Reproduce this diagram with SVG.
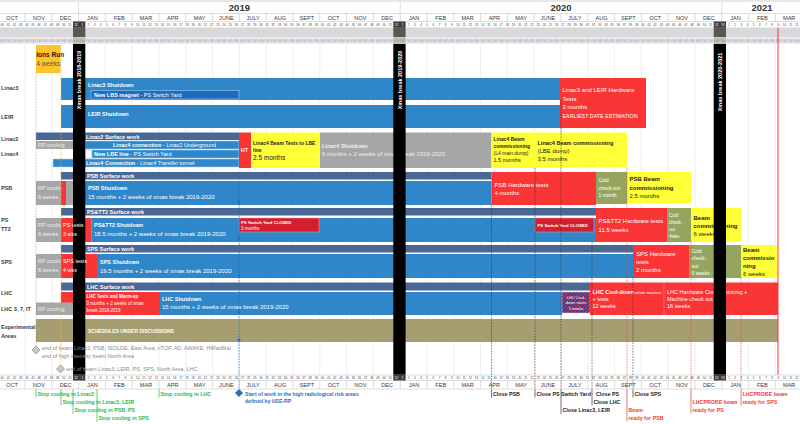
<svg xmlns="http://www.w3.org/2000/svg" width="800" height="424" viewBox="0 0 800 424">
<style>
text{font-family:"Liberation Sans",Arial,Helvetica,sans-serif;font-size:6px;fill:#333}
.b{font-weight:bold}
.h{font-weight:bold;font-size:5.5px;fill:#fff}
.w{fill:#fff}
.lg{fill:#f0f0f0}
.dk{fill:#1a1a1a}
.f4{font-size:4px}
.f43{font-size:4.3px}
.f45{font-size:4.5px}
.f5{font-size:5px}
.f55{font-size:5.5px}
.f65{font-size:6.5px}
.lab{font-weight:bold;font-size:5.5px;fill:#3a3a3a}
.yr{font-weight:bold;font-size:9.5px;text-anchor:middle;fill:#333}
.mo text{font-size:5.6px;text-anchor:middle;fill:#3a3a3a}
.wk text{font-size:3px;text-anchor:middle;fill:#444}
.wk .x{fill:#fff}
.xt{font-weight:bold;font-size:5.5px;fill:#fff;text-anchor:middle}
.blue{fill:#2F86C8}
.slate{fill:#4A6896}
.red{fill:#FA3535}
.dred{fill:#D41F2E;stroke:#F2A2A2;stroke-width:0.5}
.yel{fill:#FFFF38}
.gray{fill:#A6A6A6}
.grn{fill:#95A55F}
.sub{fill:#1C6CC0;stroke:#A8CCEE;stroke-width:0.6}
.sub2{fill:#2F86C8;stroke:#A8CCEE;stroke-width:0.6}
.grid{stroke:#E2E2E2;stroke-width:0.6;fill:none}
.dash{stroke:#333;stroke-width:0.6;stroke-dasharray:1.6 1.2;fill:none}
.rdash{stroke:#F23A3A;stroke-width:0.6;stroke-dasharray:1.6 1.2;fill:none}
.bdash{stroke:#1F6FC2;stroke-width:0.7;stroke-dasharray:1.6 1.2;fill:none}
.tick{stroke:#333;stroke-width:0.7}
.rtick{stroke:#F23A3A;stroke-width:0.7}
.gtick{stroke:#2BB54B;stroke-width:0.7}
.gt{fill:#2BB54B;font-weight:bold;font-size:5.3px}
.rt{fill:#F23A3A;font-weight:bold;font-size:5.3px}
.bt{fill:#1F6FC2;font-weight:bold;font-size:5.1px}
.ct{fill:#1a1a1a;font-weight:bold;font-size:5.3px}
.mk{fill:#C9C9C9;stroke:#8A8A8A;stroke-width:0.7}
.note{fill:#8C8C8C;font-size:5.5px}
</style>
<defs>
<pattern id="pp" x="-0.9" y="37.5" width="6.16" height="6.5" patternUnits="userSpaceOnUse">
<path d="M1.2 1.5v3.4M2.3 1.5l0.9 3.4M3.8 1.5v3.4M4.8 1.5l0.9 3.4" stroke="#8E76AE" stroke-width="0.45"/>
</pattern>
<pattern id="hatch" width="2.6" height="2.6" patternUnits="userSpaceOnUse" patternTransform="rotate(45)">
<rect width="2.6" height="2.6" fill="#2B3B8E"/><rect width="1" height="2.6" fill="#E0384A"/>
</pattern>
<path id="msep" d="M25 0v8.5M51.8 0v8.5M78.6 0v8.5M105.4 0v8.5M132.2 0v8.5M159 0v8.5M185.8 0v8.5M212.6 0v8.5M239.4 0v8.5M266.2 0v8.5M293 0v8.5M319.8 0v8.5M346.6 0v8.5M373.4 0v8.5M400.2 0v8.5M427 0v8.5M453.8 0v8.5M480.6 0v8.5M507.4 0v8.5M534.2 0v8.5M561 0v8.5M587.8 0v8.5M614.6 0v8.5M641.4 0v8.5M668.2 0v8.5M695 0v8.5M721.8 0v8.5M748.6 0v8.5M775.4 0v8.5" stroke="#C4C4C4" stroke-width="0.6"/>
<g id="months" class="mo">
<text x="12">OCT</text><text x="38.8">NOV</text><text x="65.6">DEC</text><text x="92.4">JAN</text><text x="119.2">FEB</text><text x="146">MAR</text><text x="172.8">APR</text><text x="199.6">MAY</text><text x="226.4">JUNE</text><text x="253.2">JULY</text><text x="280">AUG</text><text x="306.8">SEPT</text><text x="333.6">OCT</text><text x="360.4">NOV</text><text x="387.2">DEC</text><text x="414">JAN</text><text x="440.8">FEB</text><text x="467.6">MAR</text><text x="494.4">APR</text><text x="521.2">MAY</text><text x="548">JUNE</text><text x="574.8">JULY</text><text x="601.6">AUG</text><text x="628.4">SEPT</text><text x="655.2">OCT</text><text x="682">NOV</text><text x="708.8">DEC</text><text x="735.6">JAN</text><text x="762.4">FEB</text><text x="789.2">MAR</text>
</g>
<g id="weeks" class="wk">
<text x="2.2">40</text><text x="8.3">41</text><text x="14.5">42</text><text x="20.7">43</text><text x="26.8">44</text><text x="33">45</text><text x="39.1">46</text><text x="45.3">47</text><text x="51.5">48</text><text x="57.6">49</text><text x="63.8">50</text><text x="69.9">51</text><text class="x" x="76.1">52</text><text class="x" x="82.3">1</text><text x="88.4">2</text><text x="94.6">3</text><text x="100.7">4</text><text x="106.9">5</text><text x="113.1">6</text><text x="119.2">7</text><text x="125.4">8</text><text x="131.5">9</text><text x="137.7">10</text><text x="143.9">11</text><text x="150">12</text><text x="156.2">13</text><text x="162.3">14</text><text x="168.5">15</text><text x="174.7">16</text><text x="180.8">17</text><text x="187">18</text><text x="193.1">19</text><text x="199.3">20</text><text x="205.5">21</text><text x="211.6">22</text><text x="217.8">23</text><text x="223.9">24</text><text x="230.1">25</text><text x="236.3">26</text><text x="242.4">27</text><text x="248.6">28</text><text x="254.7">29</text><text x="260.9">30</text><text x="267.1">31</text><text x="273.2">32</text><text x="279.4">33</text><text x="285.5">34</text><text x="291.7">35</text><text x="297.9">36</text><text x="304">37</text><text x="310.2">38</text><text x="316.3">39</text><text x="322.5">40</text><text x="328.7">41</text><text x="334.8">42</text><text x="341">43</text><text x="347.1">44</text><text x="353.3">45</text><text x="359.5">46</text><text x="365.6">47</text><text x="371.8">48</text><text x="377.9">49</text><text x="384.1">50</text><text x="390.3">51</text><text class="x" x="396.4">52</text><text class="x" x="402.6">1</text><text x="408.7">2</text><text x="414.9">3</text><text x="421.1">4</text><text x="427.2">5</text><text x="433.4">6</text><text x="439.5">7</text><text x="445.7">8</text><text x="451.9">9</text><text x="458">10</text><text x="464.2">11</text><text x="470.3">12</text><text x="476.5">13</text><text x="482.7">14</text><text x="488.8">15</text><text x="495">16</text><text x="501.1">17</text><text x="507.3">18</text><text x="513.5">19</text><text x="519.6">20</text><text x="525.8">21</text><text x="531.9">22</text><text x="538.1">23</text><text x="544.3">24</text><text x="550.4">25</text><text x="556.6">26</text><text x="562.7">27</text><text x="568.9">28</text><text x="575.1">29</text><text x="581.2">30</text><text x="587.4">31</text><text x="593.5">32</text><text x="599.7">33</text><text x="605.9">34</text><text x="612">35</text><text x="618.2">36</text><text x="624.3">37</text><text x="630.5">38</text><text x="636.7">39</text><text x="642.8">40</text><text x="649">41</text><text x="655.1">42</text><text x="661.3">43</text><text x="667.5">44</text><text x="673.6">45</text><text x="679.8">46</text><text x="685.9">47</text><text x="692.1">48</text><text x="698.3">49</text><text x="704.4">50</text><text x="710.6">51</text><text class="x" x="716.7">52</text><text class="x" x="722.9">53</text><text x="729.1">1</text><text x="735.2">2</text><text x="741.4">3</text><text x="747.5">4</text><text x="753.7">5</text><text x="759.9">6</text><text x="766">7</text><text x="772.2">8</text><text x="778.3">9</text><text x="784.5">10</text><text x="790.7">11</text><text x="796.8">12</text>
</g>
</defs>

<rect width="800" height="424" fill="#fff"/>

<g id="header">
<line x1="0" y1="1" x2="800" y2="1" stroke="#D0D0D0" stroke-width="1.2"/>
<path d="M78.6 2V13.5M400.2 2V13.5M721.8 2V13.5" stroke="#C8C8C8" stroke-width="0.6"/>
<text class="yr" x="239.4" y="10.5">2019</text>
<text class="yr" x="561" y="10.5">2020</text>
<text class="yr" x="762" y="10.5">2021</text>
<path d="M0 13.5H800M0 21.5H800M0 27.8H800" stroke="#C8C8C8" stroke-width="0.6"/>
<use href="#msep" y="13.5"/>
<use href="#months" y="19.6"/>
<rect x="73" y="21.5" width="12.3" height="6.3" fill="#3C3C3C"/>
<rect x="393.3" y="21.5" width="12.3" height="6.3" fill="#3C3C3C"/>
<rect x="713.7" y="21.5" width="12.3" height="6.3" fill="#3C3C3C"/>
<use href="#weeks" y="25.8"/>
<rect x="0" y="28" width="800" height="9.5" fill="#D9D9D9"/>
<rect x="73" y="28" width="12.3" height="9.5" fill="#585858"/>
<rect x="393.3" y="28" width="12.3" height="9.5" fill="#585858"/>
<rect x="713.7" y="28" width="12.3" height="9.5" fill="#585858"/>
<rect x="0" y="37.5" width="800" height="6.5" fill="#ECECEC"/>
<rect x="73" y="37.5" width="12.3" height="6.5" fill="#C3CAAE"/>
<rect x="393.3" y="37.5" width="12.3" height="6.5" fill="#C3CAAE"/>
<rect x="713.7" y="37.5" width="12.3" height="6.5" fill="#C3CAAE"/>
<rect x="0" y="37.5" width="800" height="6.5" fill="url(#pp)"/>
</g>

<path class="grid" d="M25 44V375M51.8 44V375M78.6 44V375M105.4 44V375M132.2 44V375M159 44V375M185.8 44V375M212.6 44V375M239.4 44V375M266.2 44V375M293 44V375M319.8 44V375M346.6 44V375M373.4 44V375M400.2 44V375M427 44V375M453.8 44V375M480.6 44V375M507.4 44V375M534.2 44V375M561 44V375M587.8 44V375M614.6 44V375M641.4 44V375M668.2 44V375M695 44V375M721.8 44V375M748.6 44V375M775.4 44V375"/>

<g id="row-labels" class="lab">
<text class="lab" x="1" y="90">Linac3</text>
<text class="lab" x="1" y="119">LEIR</text>
<text class="lab" x="1" y="141">Linac2</text>
<text class="lab" x="1" y="156">Linac4</text>
<text class="lab" x="1" y="190">PSB</text>
<text class="lab" x="1" y="222">PS</text>
<text class="lab" x="1" y="231">TT2</text>
<text class="lab" x="1" y="264">SPS</text>
<text class="lab" x="1" y="295">LHC</text>
<text class="lab" x="1" y="311">LHC 3, 7, IT</text>
<text class="lab" x="1" y="329">Experimental</text>
<text class="lab" x="1" y="337.5">Areas</text>
</g>

<g id="ions-run">
<rect x="36" y="45" width="24.5" height="28" fill="#FFC425"/>
<text class="b dk f65" x="36.3" y="57">Ions Run</text>
<text class="f65" x="36.3" y="65.5" style="fill:#555">4 weeks</text>
</g>

<g id="linac3">
<rect class="blue" x="61" y="78" width="499" height="22"/>
<text class="h" x="88" y="86.5">Linac3 Shutdown</text>
<rect class="sub" x="91" y="90.5" width="148" height="8.5"/>
<text class="w f55" x="94" y="97"><tspan class="b">New LBS magnet</tspan> - PS Switch Yard</text>
</g>
<g id="leir">
<rect class="blue" x="61" y="105" width="499" height="23"/>
<text class="h" x="88" y="115.5">LEIR Shutdown</text>
</g>
<g id="linac3-leir-hw">
<rect class="red" x="560" y="78" width="86" height="50"/>
<text class="w" x="562.5" y="92">Linac3 and LEIR Hardware</text>
<text class="w" x="562.5" y="100.5">Tests</text>
<text class="w" x="562.5" y="109">3 months</text>
<text class="w" x="562.5" y="117.5" textLength="75" lengthAdjust="spacingAndGlyphs">EARLIEST DATE ESTIMATION</text>
</g>

<g id="linac2-surface">
<rect class="slate" x="36" y="132.5" width="203" height="7.5"/>
<text class="h" x="86" y="138.6">Linac2 Surface work</text>
</g>
<g id="linac2-rp">
<rect class="gray" x="36" y="141" width="37" height="8"/>
<text class="lg f55" x="38" y="147.2">RP cooling</text>
</g>
<g id="l4-conn-l2">
<rect class="sub2" x="85" y="141" width="154" height="8"/>
<text class="w f55" x="113" y="147.2"><tspan class="b">Linac4 connection</tspan> - Linac2 Underground</text>
</g>
<g id="new-lbe">
<rect x="85" y="150" width="7" height="8" fill="#fff" stroke="#A8CCEE" stroke-width="0.6"/>
<rect class="sub2" x="92" y="150" width="147" height="8"/>
<text class="w f55" x="94" y="156.2"><tspan class="b">New LBE line</tspan> - PS Switch Yard</text>
</g>
<g id="l4-conn-tt">
<rect class="sub2" x="53" y="159" width="186" height="8"/>
<text class="w f55" x="86" y="165.2"><tspan class="b">Linac4 Connection</tspan> - Linac4 Transfer tunnel</text>
</g>
<g id="ht">
<rect class="red" x="239" y="132.5" width="12" height="35.5"/>
<text class="h" x="240.8" y="152">HT</text>
</g>
<g id="l4-beam-tests">
<rect class="yel" x="251" y="132.5" width="69" height="35.5"/>
<text class="dk b f5" x="253" y="145">Linac4 Beam Tests to LBE</text>
<text class="dk b f5" x="253" y="152">line</text>
<text class="dk f65" x="253" y="159.5">2.5 months</text>
</g>
<g id="l4-shutdown">
<rect class="gray" x="320" y="132.5" width="171.5" height="35.5"/>
<text class="lg b f55" x="322" y="147.5">Linac4 Shutdown</text>
<text class="lg" x="322" y="156">6 months + 2 weeks of xmas break 2019-2020</text>
</g>
<g id="l4-comm1">
<rect class="yel" x="491.5" y="132.5" width="43.5" height="35.5"/>
<text class="dk b f5" x="493.5" y="141">Linac4 Beam</text>
<text class="dk b f5" x="493.5" y="148">commissioning</text>
<text class="dk f5" x="493.5" y="155">(L4 main dump)</text>
<text class="dk f55" x="493.5" y="162">1.5 months</text>
</g>
<g id="l4-comm2">
<rect class="yel" x="535" y="132.5" width="92" height="35"/>
<text class="dk b f55" x="537.5" y="144.5">Linac4 Beam commissioning</text>
<text class="dk" x="537.5" y="152.5">(LBE dump)</text>
<text class="dk" x="537.5" y="160.5">3.5 months</text>
</g>

<g id="psb-surface">
<rect class="slate" x="61" y="172" width="430.5" height="7.5"/>
<text class="h" x="87" y="178.2">PSB Surface work</text>
</g>
<g id="psb-rp">
<rect class="gray" x="36" y="181" width="37" height="24"/>
<text class="lg f55" x="38" y="190">RP cooling</text>
<text class="lg f55" x="38" y="199">6 weeks</text>
<rect class="red" x="61" y="181" width="5" height="24"/>
</g>
<g id="psb-shutdown">
<rect class="blue" x="85" y="181" width="406.5" height="24"/>
<text class="h" x="88" y="190">PSB Shutdown</text>
<text class="w" x="88" y="199">15 months + 2 weeks of xmas break 2019-2020</text>
</g>
<g id="psb-hw">
<rect class="red" x="491.5" y="172" width="104.5" height="33"/>
<text class="w" x="494.5" y="186.5">PSB Hardware tests</text>
<text class="w" x="494.5" y="195">4 months</text>
</g>
<g id="psb-cold">
<rect class="grn" x="596" y="172" width="31" height="32"/>
<text class="w f5" x="598.5" y="182">Cold</text>
<text class="w f5" x="598.5" y="189.5">check-out</text>
<text class="w f5" x="598.5" y="197">1 month</text>
</g>
<g id="psb-beam">
<rect class="yel" x="627" y="172" width="64" height="31"/>
<text class="dk b" x="629.5" y="181">PSB Beam</text>
<text class="dk b" x="629.5" y="189.5">commissioning</text>
<text class="dk" x="629.5" y="198">2.5 months</text>
</g>

<g id="ps-surface">
<rect class="slate" x="61" y="208" width="535" height="7.5"/>
<text class="h" x="87" y="214.2">PS&amp;TT2 Surface work</text>
</g>
<g id="ps-rp">
<rect class="gray" x="36" y="218" width="25" height="24"/>
<text class="lg f55" x="38" y="226.5">RP cooling</text>
<text class="lg f55" x="38" y="235.5">6 weeks</text>
</g>
<g id="ps-tests">
<rect class="red" x="61" y="218" width="30.5" height="24"/>
</g>
<g id="ps-shutdown">
<rect class="blue" x="91.5" y="218" width="504.5" height="24"/>
<text class="h" x="94" y="227">PS&amp;TT2 Shutdown</text>
<text class="w" x="94" y="236">18.5 months + 2 weeks of xmas break 2019-2020</text>
</g>
<g id="ps-switchyard-1">
<rect class="dred" x="239" y="218" width="80" height="14"/>
<text class="w b f43" x="241" y="223.5">PS Switch Yard CLOSED</text>
<text class="w f45" x="241" y="230">3 months</text>
</g>
<g id="ps-switchyard-2">
<rect class="dred" x="535" y="218" width="59" height="14"/>
<text class="w b f43" x="537.5" y="226.5">PS Switch Yard CLOSED</text>
</g>
<g id="ps-hw">
<rect class="red" x="596" y="208" width="71" height="34"/>
<text class="w" x="598.5" y="223">PS&amp;TT2 Hardware tests</text>
<text class="w" x="598.5" y="231.5">11.5 weeks</text>
</g>
<g id="ps-cold">
<rect class="grn" x="667" y="208" width="24" height="34"/>
<text class="w f45" x="669" y="216.5">Cold</text>
<text class="w f45" x="669" y="223.5">check-</text>
<text class="w f45" x="669" y="230.5">out</text>
<text class="w f45" x="669" y="237.5">4wks</text>
</g>
<g id="ps-beam">
<rect class="yel" x="691" y="208" width="50" height="34"/>
<text class="dk b" x="693.5" y="219.5">Beam</text>
<text class="dk b" x="693.5" y="227.5">commissioning</text>
<text class="dk" x="693.5" y="235.5">6 weeks</text>
</g>

<g id="sps-surface">
<rect class="slate" x="61" y="245" width="572" height="7.5"/>
<text class="h" x="87" y="251.2">SPS Surface work</text>
</g>
<g id="sps-rp">
<rect class="gray" x="36" y="254" width="25" height="24"/>
<text class="lg f55" x="38" y="263">RP cooling</text>
<text class="lg f55" x="38" y="272">6 weeks</text>
</g>
<g id="sps-tests">
<rect class="red" x="61" y="254" width="36" height="24"/>
</g>
<g id="sps-shutdown">
<rect class="blue" x="97" y="254" width="536" height="24"/>
<text class="h" x="100" y="263.5">SPS Shutdown</text>
<text class="w" x="100" y="272.5">19.5 months + 2 weeks of xmas break 2019-2020</text>
</g>
<g id="sps-hw">
<rect class="red" x="633" y="245" width="56" height="33"/>
<text class="w" x="636" y="256">SPS Hardware</text>
<text class="w" x="636" y="264">tests</text>
<text class="w" x="636" y="272">2 months</text>
</g>
<g id="sps-cold">
<rect class="grn" x="689" y="245" width="52" height="33"/>
<text class="w f5" x="691.5" y="253">Cold</text>
<text class="w f5" x="691.5" y="260.3">check-</text>
<text class="w f5" x="691.5" y="267.6">out</text>
<text class="w f5" x="691.5" y="275">6 weeks</text>
</g>
<g id="sps-beam">
<rect class="yel" x="741" y="245" width="36" height="33"/>
<text class="dk b" x="743" y="251.5">Beam</text>
<text class="dk b" x="743" y="259.8">commissio</text>
<text class="dk b" x="743" y="268">ning</text>
<text class="dk" x="743" y="276">6 weeks</text>
</g>

<g id="lhc-surface">
<rect class="slate" x="61" y="282.5" width="529" height="8"/>
<text class="h" x="87" y="289">LHC Surface work</text>
</g>
<g id="lhc-tests">
<rect class="red" x="61" y="292" width="98" height="23"/>
<text class="w b f45" x="86.5" y="297.5">LHC Tests and Warm-up</text>
<text class="w f45" x="86.5" y="305">3 months + 2 weeks of xmas</text>
<text class="w f45" x="86.5" y="312">break 2018-2019</text>
</g>
<g id="lhc-rp">
<rect class="gray" x="36" y="302.5" width="37" height="12.5"/>
<text class="lg f55" x="38" y="310.5">RP cooling</text>
</g>
<g id="lhc-shutdown">
<rect class="blue" x="159" y="292" width="403" height="23"/>
<text class="h" x="162" y="300.5">LHC Shutdown</text>
<text class="w" x="162" y="309">15 months + 2 weeks of xmas break 2019-2020</text>
</g>
<g id="lhc-cooldown-start">
<rect x="562" y="292" width="28" height="21" fill="url(#hatch)" stroke="#C9D3F0" stroke-width="0.5"/>
<text class="w f4" x="576" y="298.5" text-anchor="middle">LHC Cool-</text>
<text class="w f4" x="576" y="304" text-anchor="middle">down starts</text>
<text class="w f4" x="576" y="309.5" text-anchor="middle">5 weeks</text>
</g>
<g id="lhc-cooldown">
<rect class="red" x="590" y="282.5" width="74" height="32.5"/>
<text class="w f55" x="592.5" y="294"><tspan class="b">LHC Cool-down</tspan><tspan class="f4"> whole machine</tspan></text>
<text class="w f55" x="592.5" y="300.7">+ tests</text>
<text class="w f55" x="592.5" y="307.5">12 weeks</text>
</g>
<g id="lhc-hwc">
<rect class="red" x="664" y="282.5" width="114" height="32.5"/>
<line x1="664" y1="283" x2="664" y2="315" stroke="#FF9090" stroke-width="0.5"/>
<text class="w f55" x="667" y="294">LHC Hardware Commissioning +</text>
<text class="w f55" x="667" y="300.7">Machine check out</text>
<text class="w f55" x="667" y="307.5">16 weeks</text>
</g>

<g id="exp-areas">
<rect x="36" y="319" width="742" height="23" fill="#A69E70"/>
<text class="w b f5" x="88" y="333">SCHEDULES UNDER DISCUSSIONS</text>
</g>

<g id="xmas-2018-2019">
<rect x="73" y="44" width="12.3" height="331" fill="#000"/>
<text class="xt" transform="translate(81.2,80) rotate(-90)">Xmas break 2018-2019</text>
</g>
<g id="xmas-2019-2020">
<rect x="393.3" y="44" width="12.3" height="331" fill="#000"/>
<text class="xt" transform="translate(401.5,80) rotate(-90)">Xmas break 2019-2020</text>
</g>
<g id="xmas-2020-2021">
<rect x="713.7" y="44" width="12.3" height="331" fill="#000"/>
<text class="xt" transform="translate(721.9,82) rotate(-90)">Xmas break 2020-2021</text>
</g>

<g id="ps-tests-label">
<text class="w f55" x="63" y="226.5">PS tests</text>
<text class="w f55" x="63" y="235.5">3 wks</text>
</g>
<g id="sps-tests-label">
<text class="w f55" x="63" y="263">SPS tests</text>
<text class="w f55" x="63" y="272">4 wks</text>
</g>

<g id="connectors">
<path d="M36 73V346" stroke="#9A9A9A" stroke-width="0.6" stroke-dasharray="1.6 1.2" fill="none"/>
<path d="M61 45V365" stroke="#F0B030" stroke-width="0.7" stroke-dasharray="1.6 1.2" fill="none"/>
<path class="dash" d="M491.5 205V389M535 168V389M561 100V389M592 242V389M633 278V389"/>
<path class="rdash" d="M627 168V389M691 242V389M741 278V389"/>
<path class="bdash" d="M239 182V389"/>
<path class="tick" d="M491.5 389V397.5M535 389V397.5M561 389V414M592 389V405.5M633 389V397.5"/>
<path class="rtick" d="M627 389V421.5M691 389V413.5M741 389V405.5"/>
<path class="gtick" d="M36 389V397.5M61 389V405.5M73 389V413.5M97 389V421.5M159 389V397.5"/>
<path d="M239 389V393" stroke="#1F6FC2" stroke-width="0.7"/>
<g fill="#1F6FC2">
<path d="M239 200.2l1.8 1.8l-1.8 1.8l-1.8-1.8z"/>
<path d="M239 237.2l1.8 1.8l-1.8 1.8l-1.8-1.8z"/>
<path d="M239 274.2l1.8 1.8l-1.8 1.8l-1.8-1.8z"/>
<path d="M239 310.2l1.8 1.8l-1.8 1.8l-1.8-1.8z"/>
<path d="M239 338.2l1.8 1.8l-1.8 1.8l-1.8-1.8z"/>
<path d="M239 389l4 4l-4 4l-4-4z"/>
</g>
<path class="mk" d="M36 346l4 4l-4 4l-4-4z"/>
<path class="mk" d="M60.5 365l4 4l-4 4l-4-4z"/>
</g>

<line id="today-line" x1="778" y1="28" x2="778" y2="375" stroke="#F33" stroke-width="1"/>

<g id="bottom-axis">
<path d="M0 375H800M0 380.5H800M0 389H800" stroke="#C8C8C8" stroke-width="0.6"/>
<rect x="73" y="375" width="12.3" height="5.5" fill="#3C3C3C"/>
<rect x="393.3" y="375" width="12.3" height="5.5" fill="#3C3C3C"/>
<rect x="713.7" y="375" width="12.3" height="5.5" fill="#3C3C3C"/>
<use href="#weeks" y="379.2"/>
<use href="#msep" y="380.5"/>
<use href="#months" y="387"/>
</g>

<g id="milestone-notes">
<text class="note" x="42" y="350">end of beam Linac2, PSB, ISOLDE, East Area, nTOF, AD, AWAKE, HiRadMat</text>
<text class="note" x="42" y="358">end of high intensity beam North Area</text>
<text class="note" x="66" y="371">end of beam Linac3, LEIR, PS, SPS, North Area, LHC</text>
</g>

<g id="annotations">
<text class="gt" x="37.5" y="395.5">Stop cooling in Linac2</text>
<text class="gt" x="62.5" y="404">Stop cooling in Linac3, LEIR</text>
<text class="gt" x="74.5" y="412">Stop cooling in PSB, PS</text>
<text class="gt" x="98.5" y="420">Stop cooling in SPS</text>
<text class="gt" x="160.5" y="395.5">Stop cooling in LHC</text>
<text class="bt" x="245" y="395.5">Start of work in the high radiological risk areas</text>
<text class="bt" x="245" y="402.5">defined by HSE-RP</text>
<text class="ct" x="493" y="395.5">Close PSB</text>
<text class="ct" x="536.5" y="395.5">Close PS Switch Yard</text>
<text class="ct" x="562.5" y="412">Close Linac3, LEIR</text>
<text class="ct" x="596" y="395.5">Close PS</text>
<text class="ct" x="593.5" y="403.5">Close LHC</text>
<text class="ct" x="634.5" y="395.5">Close SPS</text>
<text class="rt" x="628.5" y="412">Beam</text>
<text class="rt" x="628.5" y="419.5">ready for PSB</text>
<text class="rt" x="692.5" y="403.5">LHCPROBE beam</text>
<text class="rt" x="692.5" y="411.5">ready for PS</text>
<text class="rt" x="742.5" y="395.5">LHCPROBE beam</text>
<text class="rt" x="742.5" y="403.5">ready for SPS</text>
</g>
</svg>
